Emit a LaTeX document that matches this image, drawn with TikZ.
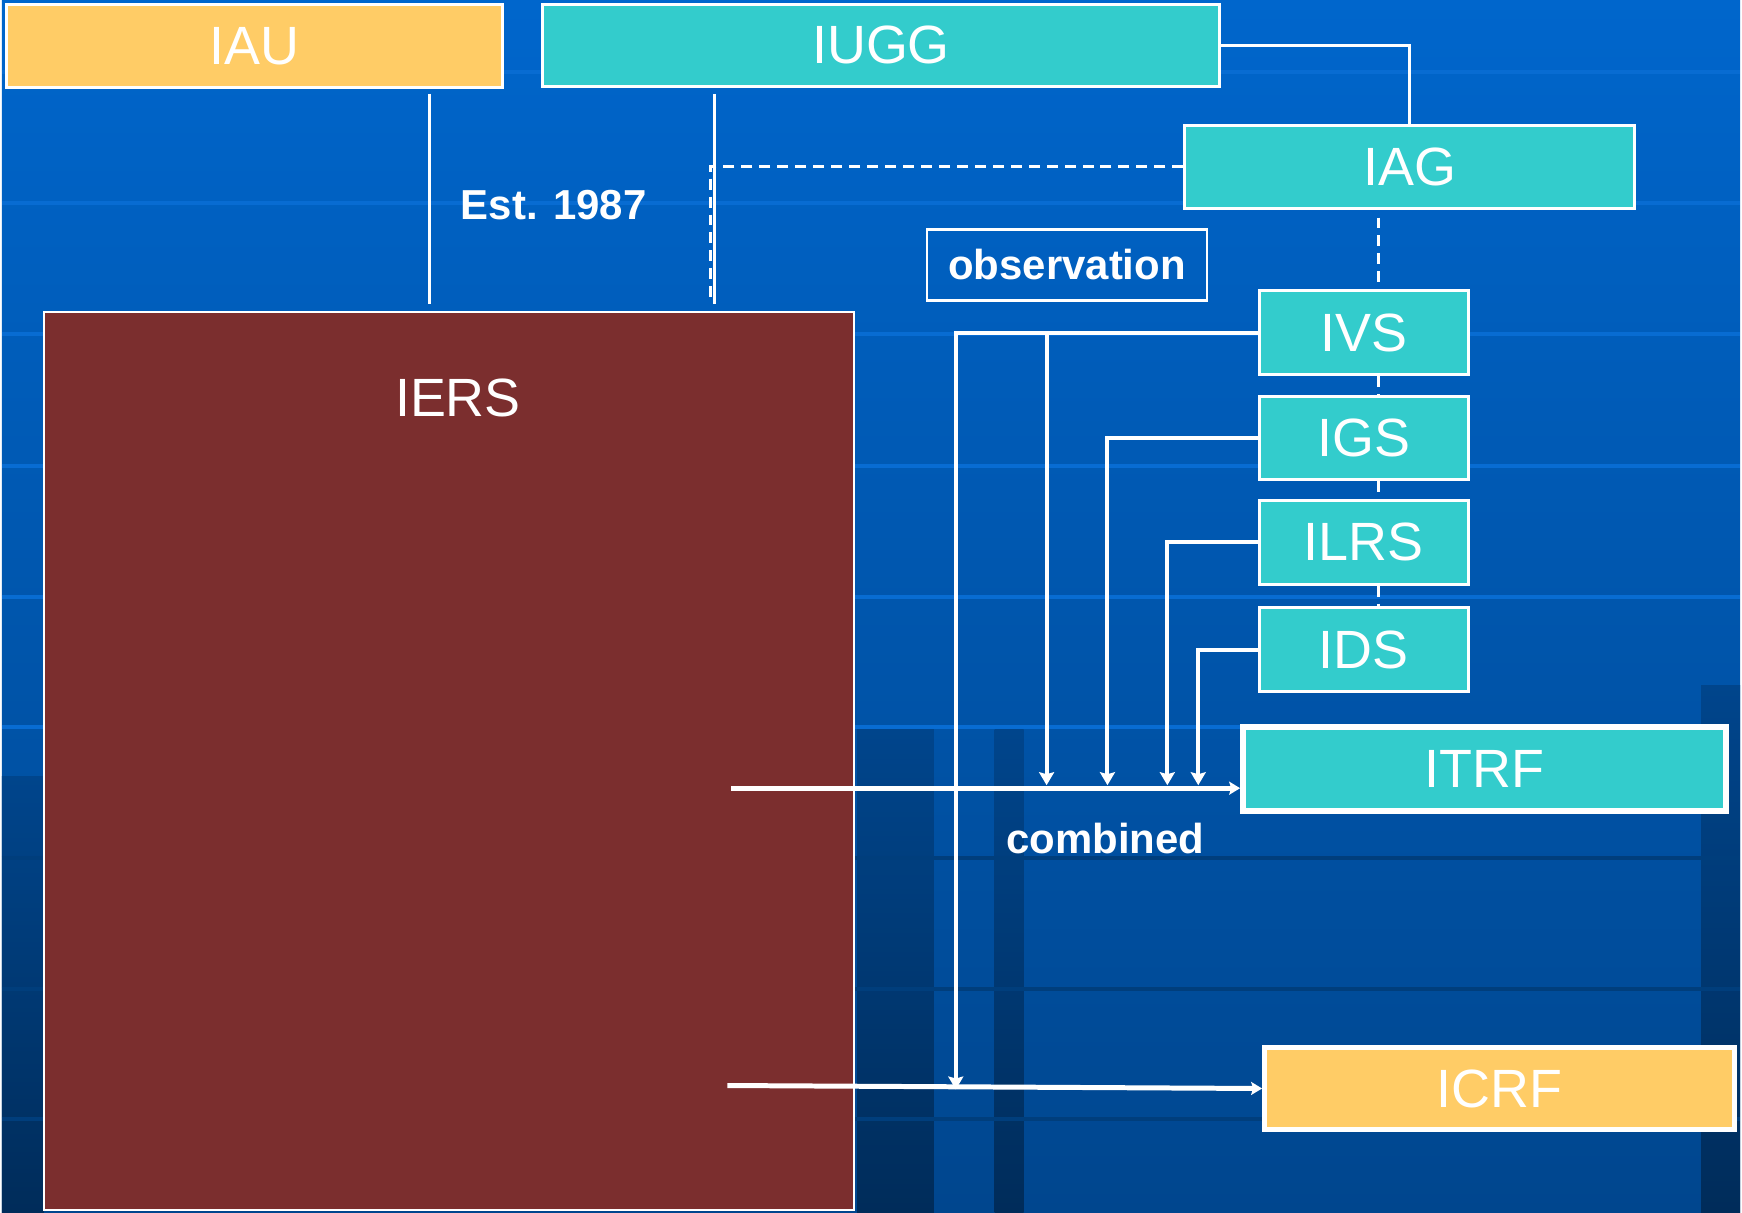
\documentclass[tikz,border=0pt]{standalone}
\usepackage{fontspec}
\setmainfont{Liberation Sans}
\usetikzlibrary{arrows.meta}

\definecolor{bgtop}{HTML}{0066CC}
\definecolor{bgbottom}{HTML}{00468E}
\definecolor{gridlight}{HTML}{086CD2}
\definecolor{griddark}{HTML}{003E7C}
\definecolor{stripetop}{HTML}{00458C}
\definecolor{stripebottom}{HTML}{002C5A}
\definecolor{unionteal}{HTML}{33CCCC}
\definecolor{astrogold}{HTML}{FFCC66}
\definecolor{iersred}{HTML}{7B2E2E}

\begin{document}
\begin{tikzpicture}[x=1pt,y=-1pt,
  orgbox/.style={draw=white,line width=3pt,text=white,inner sep=0pt,font=\fontsize{54}{60}\selectfont},
  tealbox/.style={orgbox,fill=unionteal},
  goldbox/.style={orgbox,fill=astrogold},
  boldlabel/.style={text=white,inner sep=0pt,font=\fontsize{42}{48}\selectfont\bfseries},
  link/.style={draw=white,line width=3pt},
  dashline/.style={draw=white,line width=3pt,dash pattern=on 11pt off 7pt},
  feed/.style={draw=white,line width=4pt,-{Stealth[length=13pt,width=15pt,inset=2pt]}},
  mainarrow/.style={draw=white,line width=5pt,-{Stealth[length=11pt,width=13pt,inset=2pt]}}]

% background
\shade[top color=bgtop,bottom color=bgbottom] (0,0) rectangle (1742,1215);
\foreach \y in {72,203,335,467,598,729}
  \draw[gridlight,line width=4pt] (0,\y) -- (1742,\y);
\foreach \xa/\xb/\ya in {857/934/731, 995/1024/731, 1703/1742/687, 0/42/778}
  \shade[top color=stripetop,bottom color=stripebottom] (\xa,\ya) rectangle (\xb,1215);
\foreach \y in {860,991,1122}
  \draw[griddark,line width=4pt] (0,\y) -- (1742,\y);

% organisations
\node[goldbox,minimum width=497pt,minimum height=83pt] (IAU) at (253,46) {IAU};
\node[tealbox,minimum width=679pt,minimum height=82pt] (IUGG) at (881,45.5) {IUGG};
\node[tealbox,minimum width=451pt,minimum height=83pt] (IAG) at (1411,167) {IAG};
\node[draw=white,line width=2pt,fill=iersred,minimum width=812pt,minimum height=900pt] (IERS) at (448,763) {};
\node[text=white,inner sep=0pt,font=\fontsize{54}{60}\selectfont,anchor=base] (iersname) at (457,417) {IERS};
\foreach \name/\y in {IVS/333.5, IGS/439, ILRS/543.5, IDS/651}
  \node[tealbox,minimum width=209pt,minimum height=84pt] (\name) at (1365,\y) {\name};
\node[tealbox,line width=6pt,minimum width=484pt,minimum height=84pt] (ITRF) at (1486,771) {ITRF};
\node[goldbox,line width=5pt,minimum width=471pt,minimum height=83pt] (ICRF) at (1501,1091) {ICRF};

% labels
\node[boldlabel,anchor=base] (est) at (553,220) {Est. 1987};
\node[boldlabel,draw=white,line width=2.5pt,minimum width=281pt,minimum height=71pt] (obs) at (1067.5,265.5) {observation};
\node[boldlabel,anchor=base] (comb) at (1106,855) {combined};

% hierarchy
\draw[link] ([xshift=175pt,yshift=-5pt]IAU.south) -- ([xshift=-20pt,yshift=7pt]IERS.north);
\draw[link] ([xshift=-167pt,yshift=-6pt]IUGG.south) -- ([xshift=266pt,yshift=7pt]IERS.north);
\draw[dashline] (IAG.west) -| ([xshift=262pt,yshift=7pt]IERS.north);
\draw[link] (IUGG.east) -| (IAG.north);
\coordinate (spine) at (1380,0);
\draw[dashline] ([yshift=-8pt]spine |- IAG.south) -- ([yshift=5pt]spine |- IVS.north);
\foreach \a/\b in {IVS/IGS, IGS/ILRS, ILRS/IDS}
  \draw[dashline] (spine |- \a.south) -- (spine |- \b.north);

% products
\coordinate (itrfin) at (731,790);
\coordinate (icrfin) at (727,1088);
\coordinate (vlbidrop) at (956,1092);
\draw[mainarrow] (itrfin) -- (itrfin -| ITRF.west);
\draw[mainarrow] (icrfin) -- (ICRF.west);
\draw[feed] (IVS.west) -| (vlbidrop);
\foreach \name/\x in {IVS/1047, IGS/1108, ILRS/1168, IDS/1199}{
  \coordinate (\name-in) at (\x,787);
  \draw[feed] (\name.west) -| (\name-in);
}
\end{tikzpicture}
\end{document}
